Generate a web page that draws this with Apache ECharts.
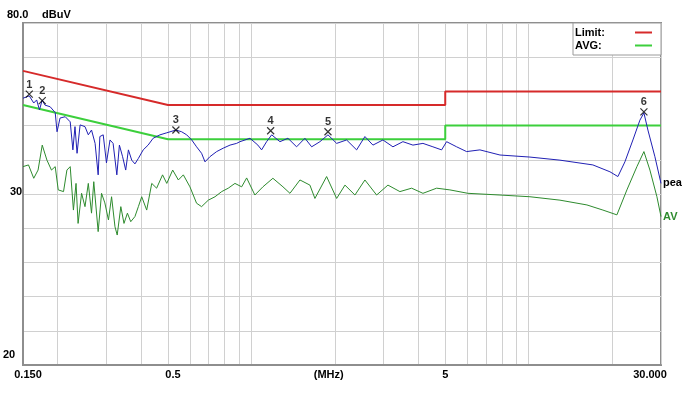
<!DOCTYPE html>
<html><head><meta charset="utf-8">
<script src="https://cdn.jsdelivr.net/npm/echarts@6/dist/echarts.min.js"></script>
<style>html,body{margin:0;padding:0;background:#fff}#c{width:695px;height:396px}</style>
</head><body><div id="c"></div>
<script>
const FONT = "'Liberation Sans Narrow','Liberation Sans',Arial,sans-serif";

// Frequencies in MHz, levels in dBuV
const peakFreq = [0.150,0.158,0.164,0.168,0.172,0.176,0.180,0.188,0.196,0.199,0.204,0.213,0.222,0.227,0.231,0.235,0.241,0.251,0.258,0.265,0.273,0.280,0.284,0.292,0.300,0.309,0.317,0.327,0.334,0.343,0.352,0.360,0.370,0.380,0.391,0.407,0.424,0.442,0.468,0.495,0.534,0.560,0.584,0.609,0.634,0.661,0.680,0.708,0.749,0.791,0.837,0.884,0.909,0.988,1.055,1.088,1.134,1.183,1.267,1.354,1.455,1.559,1.649,1.766,1.888,2.029,2.204,2.395,2.566,2.743,2.980,3.238,3.518,3.823,4.155,4.513,4.851,5.057,5.495,5.970,6.668,7.875,10.10,12.96,17.04,19.63,20.97,22.23,23.76,25.18,26.03,26.91,28.52,30.0];
const peakLevel = [58.0,58.7,56.6,57.5,54.6,57.5,56.0,55.5,53.8,48.2,52.2,52.6,51.1,42.9,49.7,41.9,50.2,49.7,47.3,48.7,44.8,35.6,46.8,47.3,39.1,45.8,44.8,35.6,44.3,40.9,37.0,42.9,39.9,38.8,40.4,42.9,44.3,46.3,47.3,47.9,48.7,48.2,47.3,45.8,43.8,41.9,39.4,40.9,42.4,43.4,44.3,44.8,45.3,46.3,44.3,42.9,45.3,47.3,45.3,46.3,43.8,46.3,43.8,45.3,47.3,44.8,45.8,42.9,46.8,44.3,45.8,43.8,45.3,44.3,44.8,43.8,42.9,45.3,43.8,42.4,42.9,41.4,40.8,39.9,38.5,36.5,35.1,39.4,45.8,51.6,53.7,48.7,40.9,33.1];

const avgFreq = [0.150,0.157,0.164,0.170,0.176,0.183,0.190,0.196,0.201,0.210,0.216,0.222,0.228,0.233,0.237,0.244,0.251,0.258,0.265,0.270,0.280,0.288,0.296,0.305,0.313,0.322,0.328,0.338,0.347,0.357,0.367,0.380,0.391,0.402,0.419,0.437,0.455,0.478,0.495,0.520,0.545,0.568,0.600,0.634,0.661,0.699,0.739,0.781,0.825,0.872,0.922,0.961,1.029,1.100,1.195,1.299,1.377,1.496,1.625,1.694,1.867,2.029,2.174,2.362,2.566,2.828,3.107,3.431,3.782,4.155,4.655,5.198,6.037,7.875,10.10,12.96,16.22,18.52,20.80,22.60,24.56,26.03,27.36,29.00,30.0];
const avgLevel = [38.0,38.5,34.6,37.0,44.3,39.9,37.0,38.0,31.2,30.7,37.0,38.0,25.3,33.1,21.4,30.2,26.3,33.1,24.4,33.6,19.0,30.2,27.4,22.4,29.2,20.4,18.0,26.3,21.4,24.4,21.9,23.4,26.3,29.2,25.3,33.1,31.7,35.6,33.1,37.0,34.1,35.6,32.1,27.3,26.3,28.2,29.2,30.7,31.7,33.1,32.1,34.7,29.7,32.1,34.6,32.1,30.2,34.1,32.6,28.7,35.1,28.7,32.6,29.7,34.1,29.7,32.6,30.7,31.7,30.2,31.7,31.2,30.2,29.7,29.2,28.2,26.8,25.3,23.9,31.2,38.0,42.4,37.0,29.2,23.4];

const qpLimitFreq = [0.15, 0.5, 5, 5, 30];
const qpLimitLevel = [66, 56, 56, 60, 60];
const avgLimitFreq = [0.15, 0.5, 5, 5, 30];
const avgLimitLevel = [56, 46, 46, 50, 50];

const markerNo = ['1','2','3','4','5','6'];
const markerFreq = [0.158, 0.176, 0.534, 1.173, 1.888, 26.03];
const markerLevel = [59.2, 57.3, 48.7, 48.5, 48.2, 54.0];

const xGridValues = [0.15,0.2,0.3,0.4,0.5,0.6,0.7,0.8,0.9,1,2,3,4,5,6,7,8,9,10,20,30];
const xLabelValues = [0.15, 0.5, 1.9, 5, 30];
const xLabelTexts = ['{a|0.150}', '{a|0.5}', '{c|(MHz)}', '{c|5}', '{z|30.000}'];

const zip = (a, b) => a.map((v, i) => [v, b[i]]);

const chart = echarts.init(document.getElementById('c'), null, {renderer: 'canvas'});
const lbl = {fontFamily: FONT, fontWeight: 'bold', fontSize: 11, color: '#000'};

chart.setOption({
  animation: false,
  backgroundColor: '#fff',
  grid: {left: 23, right: 34, top: 23, bottom: 31, show: true, borderColor: '#8e8e8e', borderWidth: 2, backgroundColor: '#fff'},
  legend: {
    data: ['Limit:', 'AVG:'],
    right: 34, top: 23, orient: 'vertical', align: 'right',
    backgroundColor: '#fff', borderColor: '#9a9a9a', borderWidth: 1,
    padding: [3, 9, 3, 2], itemGap: 0, itemWidth: 17, itemHeight: 2,
    icon: 'rect', selectedMode: false,
    formatter: '{n|{name}}',
    textStyle: Object.assign({}, lbl, {lineHeight: 13,
      rich: {n: Object.assign({}, lbl, {width: 55, align: 'left', lineHeight: 13})}})
  },
  xAxis: {
    type: 'log', logBase: 10, min: 0.15, max: 30,
    axisLine: {show: true, onZero: false, lineStyle: {color: '#8e8e8e', width: 2}},
    axisTick: {show: false, customValues: xGridValues},
    splitLine: {show: true, lineStyle: {color: '#d0d0d0', width: 1}},
    axisLabel: {
      customValues: xLabelValues, margin: 4,
      fontFamily: FONT, fontWeight: 'bold', fontSize: 11, color: '#000',
      formatter: function (v) {
        let best = 0;
        xLabelValues.forEach((x, i) => { if (Math.abs(Math.log(x) - Math.log(v)) < Math.abs(Math.log(xLabelValues[best]) - Math.log(v))) best = i; });
        return xLabelTexts[best];
      },
      rich: {
        a: Object.assign({}, lbl, {padding: [0, 0, 0, 10]}),
        c: Object.assign({}, lbl),
        z: Object.assign({}, lbl, {padding: [0, 22, 0, 0]})
      }
    }
  },
  yAxis: {
    type: 'value', min: -20, max: 80, interval: 10,
    name: 'dBuV', nameLocation: 'end', nameGap: 8,
    nameTextStyle: Object.assign({}, lbl, {align: 'left', verticalAlign: 'middle', padding: [0, 0, 0, 19]}),
    axisLine: {show: true, onZero: false, lineStyle: {color: '#8e8e8e', width: 2}},
    axisTick: {show: false},
    splitLine: {show: true, lineStyle: {color: '#d0d0d0', width: 1}},
    axisLabel: {
      showMinLabel: true, showMaxLabel: true, align: 'left', margin: 20,
      fontFamily: FONT, fontWeight: 'bold', fontSize: 11, color: '#000',
      formatter: function (v) {
        if (v === 80) return '{t|80.0}';
        if (v === 30) return '{m|30}';
        if (v === -20) return '{b|20}';
        return '';
      },
      rich: {
        t: Object.assign({}, lbl, {padding: [0, 0, 16, 4]}),
        m: Object.assign({}, lbl, {padding: [0, 0, 4, 7]}),
        b: Object.assign({}, lbl, {padding: [0, 0, 20, 0]})
      }
    }
  },
  series: [
    {
      name: 'Limit:', type: 'line', data: zip(qpLimitFreq, qpLimitLevel),
      symbol: 'none', color: '#d62a2a', lineStyle: {width: 2, color: '#d62a2a'}, z: 3
    },
    {
      name: 'AVG:', type: 'line', data: zip(avgLimitFreq, avgLimitLevel),
      symbol: 'none', color: '#3ccf3c', lineStyle: {width: 2, color: '#3ccf3c'}, z: 3
    },
    {
      name: 'AVG', type: 'line', data: zip(avgFreq, avgLevel),
      symbol: 'none', lineStyle: {width: 1, color: '#2e8b2e'}, color: '#2e8b2e', z: 4,
      endLabel: {show: true, formatter: 'AVG', distance: 2, width: 24, overflow: 'truncate', ellipsis: '',
        fontFamily: FONT, fontWeight: 'bold', fontSize: 11, color: '#2e8b2e'}
    },
    {
      name: 'peak', type: 'line', data: zip(peakFreq, peakLevel),
      symbol: 'none', lineStyle: {width: 1, color: '#2020b4'}, color: '#2020b4', z: 5,
      endLabel: {show: true, formatter: 'peak', distance: 2, width: 21, overflow: 'truncate', ellipsis: '',
        fontFamily: FONT, fontWeight: 'bold', fontSize: 11, color: '#000'}
    },
    {
      name: 'markers', type: 'scatter', data: zip(markerFreq, markerLevel),
      symbol: 'path://M0 0L10 10M10 0L0 10', symbolSize: 7,
      itemStyle: {color: 'rgba(0,0,0,0)', borderColor: '#000', borderWidth: 1.2},
      label: {show: true, position: 'top', distance: 0,
        formatter: p => markerNo[p.dataIndex],
        fontFamily: FONT, fontWeight: 'bold', fontSize: 11, color: '#000'},
      z: 6
    }
  ]
});
</script>
</body></html>
